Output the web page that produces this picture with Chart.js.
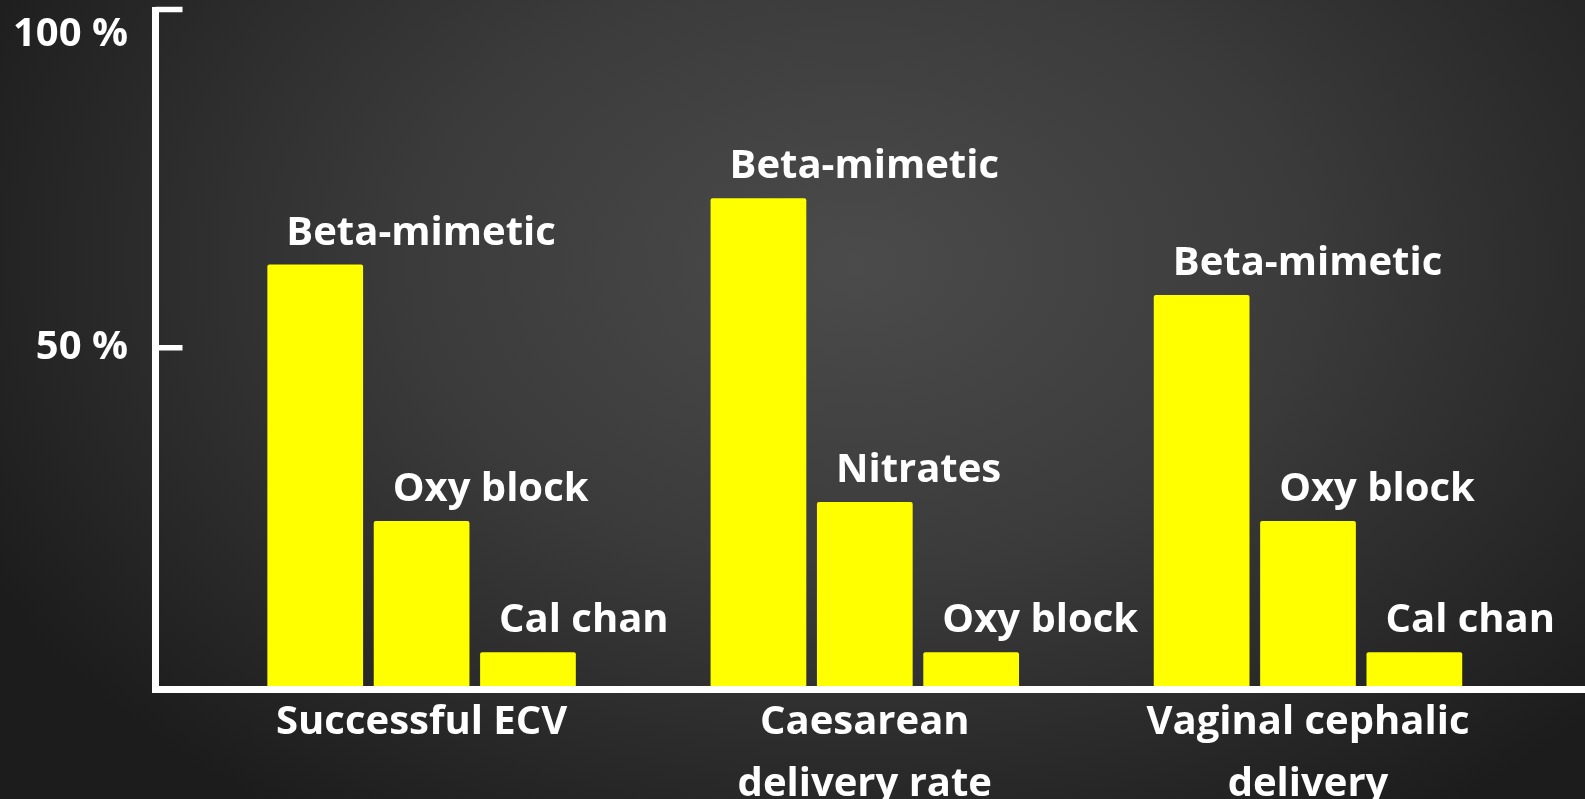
<!DOCTYPE html>
<html>
<head>
<meta charset="utf-8">
<script src="https://cdn.jsdelivr.net/npm/chart.js@4.4.1/dist/chart.umd.min.js"></script>
<style>
  html, body {
    margin: 0;
    padding: 0;
    width: 1585px;
    height: 799px;
    overflow: hidden;
  }
  body {
    background: radial-gradient(ellipse 62% 85% at 54% 33%, #4b4b4b 0%, #3b3b3b 45%, #1c1c1c 100%);
  }
  #wrap {
    position: relative;
    width: 1585px;
    height: 799px;
  }
</style>
</head>
<body>
<div id="wrap"><canvas id="chartOutcomes"></canvas></div>
<script>
'use strict';

// outcome groups on the x axis
const categories = [['Successful ECV'], ['Caesarean', 'delivery rate'], ['Vaginal cephalic', 'delivery']];

// first, second and third bar of every group (percent)
const firstBarNames = ['Beta-mimetic', 'Beta-mimetic', 'Beta-mimetic'];
const firstBarValues = [62.3, 72.1, 57.8];

const secondBarNames = ['Oxy block', 'Nitrates', 'Oxy block'];
const secondBarValues = [24.4, 27.2, 24.4];

const thirdBarNames = ['Cal chan', 'Oxy block', 'Cal chan'];
const thirdBarValues = [5.0, 5.0, 5.0];

const yTickValues = [50, 100];

const barNames = [firstBarNames, secondBarNames, thirdBarNames];
const fontFamily = '"Open Sans", "Liberation Sans", sans-serif';

// white L shaped frame with short inward ticks
const axisFrame = {
    id: 'axisFrame',
    afterDraw(chart) {
        const ctx = chart.ctx;
        const area = chart.chartArea;
        const y = chart.scales.y;
        const axisX = area.left - 44.5;
        const baseY = area.bottom + 3.5;
        ctx.save();
        ctx.strokeStyle = '#ffffff';
        ctx.lineCap = 'butt';
        ctx.lineWidth = 7;
        ctx.beginPath();
        ctx.moveTo(axisX, y.getPixelForValue(100) - 2.5);
        ctx.lineTo(axisX, baseY + 3.5);
        ctx.moveTo(axisX - 3.5, baseY);
        ctx.lineTo(chart.width, baseY);
        ctx.stroke();
        ctx.lineWidth = 5.5;
        ctx.beginPath();
        for (let i = 0; i < yTickValues.length; i++) {
            let ty = y.getPixelForValue(yTickValues[i]);
            ctx.moveTo(axisX, ty);
            ctx.lineTo(axisX + 27, ty);
        }
        ctx.stroke();
        ctx.restore();
    }
};

// name written above every bar, starting a little right of its left edge
const barLabels = {
    id: 'barLabels',
    afterDatasetsDraw(chart) {
        const ctx = chart.ctx;
        ctx.save();
        ctx.fillStyle = '#ffffff';
        ctx.font = 'bold 40px ' + fontFamily;
        ctx.textAlign = 'left';
        ctx.textBaseline = 'alphabetic';
        chart.data.datasets.forEach((ds, d) => {
            chart.getDatasetMeta(d).data.forEach((bar, i) => {
                let left = bar.x - bar.width / 2;
                ctx.fillText(barNames[d][i], left + 19, bar.y - 20);
            });
        });
        ctx.restore();
    }
};

const data = {
    labels: categories,
    datasets: [
        {
            label: 'First',
            data: firstBarValues,
            backgroundColor: '#ffff00',
            borderRadius: 2,
            borderSkipped: 'bottom',
        },
        {
            label: 'Second',
            data: secondBarValues,
            backgroundColor: '#ffff00',
            borderRadius: 2,
            borderSkipped: 'bottom',
        },
        {
            label: 'Third',
            data: thirdBarValues,
            backgroundColor: '#ffff00',
            borderRadius: 2,
            borderSkipped: 'bottom',
        },
    ]
};

const config = {
    type: 'bar',
    data: data,
    options: {
        responsive: true,
        maintainAspectRatio: false,
        animation: false,
        layout: {
            autoPadding: false,
            padding: { top: 9.5, right: 55.4, left: 0, bottom: 0 },
        },
        datasets: {
            bar: {
                barPercentage: 0.9,
                categoryPercentage: 0.72,
            },
        },
        plugins: {
            legend: { display: false },
            tooltip: { enabled: false },
        },
        scales: {
            x: {
                grid: { display: false, drawTicks: false },
                border: { display: false },
                ticks: {
                    color: '#ffffff',
                    padding: 6,
                    maxRotation: 0,
                    autoSkip: false,
                    font: { family: fontFamily, size: 40, weight: 'bold', lineHeight: 1.55 },
                },
                afterFit(scale) {
                    scale.height = 113;
                    scale.paddingLeft = 0;
                    scale.paddingRight = 0;
                },
            },
            y: {
                min: 0,
                max: 100,
                grid: { display: false, drawTicks: false },
                border: { display: false },
                afterBuildTicks(scale) {
                    scale.ticks = yTickValues.map(v => ({ value: v }));
                },
                ticks: {
                    color: '#ffffff',
                    padding: 72,
                    font: { family: fontFamily, size: 40, weight: 'bold', lineHeight: 1.25 },
                    callback: function (value) {
                        return value === 100 ? ['', '100 %'] : value + ' %';
                    },
                },
                afterFit(scale) {
                    scale.width = 200;
                    scale.paddingTop = 0;
                    scale.paddingBottom = 0;
                },
            },
        },
    },
    plugins: [axisFrame, barLabels],
};

let chartCanvas = document.getElementById('chartOutcomes');
const outcomesChart = new Chart(chartCanvas, config);
</script>
</body>
</html>
